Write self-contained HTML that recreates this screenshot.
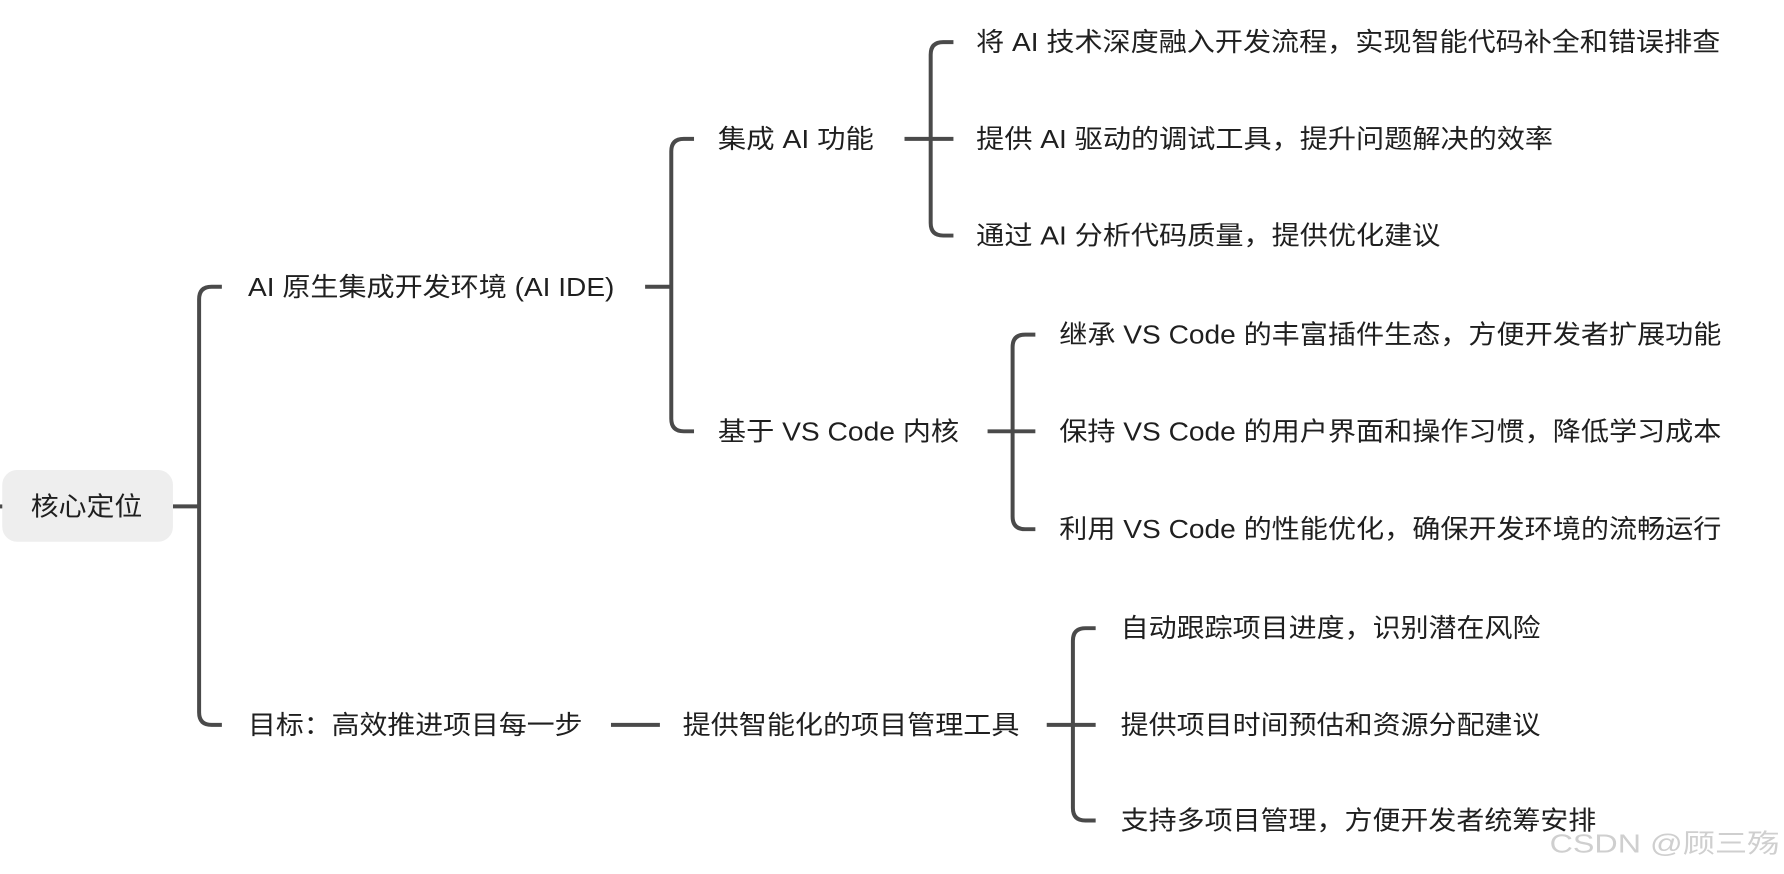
<!DOCTYPE html>
<html><head><meta charset="utf-8"><style>
html,body{margin:0;padding:0;background:#fff;}
svg{display:block;}
text{font-family:"Liberation Sans","Noto Sans CJK SC",sans-serif;fill:#1f1f1f;font-size:23px;dominant-baseline:central;}
</style></head><body>
<svg width="1784" height="874" viewBox="0 0 1568 768" preserveAspectRatio="none" xmlns="http://www.w3.org/2000/svg">
<g fill="none" stroke="#4a4a4a" stroke-width="3.5">
<line x1="0" y1="445" x2="4" y2="445"/>
<line x1="152" y1="445" x2="175" y2="445"/>
<path d="M195 252 H186 Q175 252 175 263 V626 Q175 637 186 637 H195"/>
<line x1="567" y1="252" x2="590" y2="252"/>
<path d="M610 122 H601 Q590 122 590 133 V368 Q590 379 601 379 H610"/>
<line x1="795" y1="122" x2="818" y2="122"/>
<path d="M838 37 H829 Q818 37 818 48 V196 Q818 207 829 207 H838"/>
<line x1="818" y1="122" x2="838" y2="122"/>
<line x1="868" y1="379" x2="890" y2="379"/>
<path d="M910 294 H901 Q890 294 890 305 V454 Q890 465 901 465 H910"/>
<line x1="890" y1="379" x2="910" y2="379"/>
<line x1="537" y1="637" x2="580" y2="637"/>
<line x1="920" y1="637" x2="943" y2="637"/>
<path d="M963 552 H954 Q943 552 943 563 V710 Q943 721 954 721 H963"/>
<line x1="943" y1="637" x2="963" y2="637"/>
</g>
<rect x="2" y="413" width="150" height="63" rx="13" fill="#eeeeee"/>
<text x="27" y="445" font-size="24" textLength="98" lengthAdjust="spacingAndGlyphs">核心定位</text>
<text x="218" y="252" textLength="322" lengthAdjust="spacingAndGlyphs">AI 原生集成开发环境 (AI IDE)</text>
<text x="218" y="637" textLength="294" lengthAdjust="spacingAndGlyphs">目标：高效推进项目每一步</text>
<text x="631" y="122" textLength="137" lengthAdjust="spacingAndGlyphs">集成 AI 功能</text>
<text x="631" y="379" textLength="212" lengthAdjust="spacingAndGlyphs">基于 VS Code 内核</text>
<text x="600" y="637" textLength="296" lengthAdjust="spacingAndGlyphs">提供智能化的项目管理工具</text>
<text x="858" y="37" textLength="654" lengthAdjust="spacingAndGlyphs">将 AI 技术深度融入开发流程，实现智能代码补全和错误排查</text>
<text x="858" y="122" textLength="507" lengthAdjust="spacingAndGlyphs">提供 AI 驱动的调试工具，提升问题解决的效率</text>
<text x="858" y="207" textLength="408" lengthAdjust="spacingAndGlyphs">通过 AI 分析代码质量，提供优化建议</text>
<text x="931" y="294" textLength="582" lengthAdjust="spacingAndGlyphs">继承 VS Code 的丰富插件生态，方便开发者扩展功能</text>
<text x="931" y="379" textLength="582" lengthAdjust="spacingAndGlyphs">保持 VS Code 的用户界面和操作习惯，降低学习成本</text>
<text x="931" y="465" textLength="582" lengthAdjust="spacingAndGlyphs">利用 VS Code 的性能优化，确保开发环境的流畅运行</text>
<text x="985" y="552" textLength="369" lengthAdjust="spacingAndGlyphs">自动跟踪项目进度，识别潜在风险</text>
<text x="985" y="637" textLength="369" lengthAdjust="spacingAndGlyphs">提供项目时间预估和资源分配建议</text>
<text x="985" y="721" textLength="418" lengthAdjust="spacingAndGlyphs">支持多项目管理，方便开发者统筹安排</text>
<text x="1362" y="741" font-size="21" style="fill:#cfcfcf" textLength="202" lengthAdjust="spacingAndGlyphs">CSDN @顾三殇</text>
</svg>
</body></html>
